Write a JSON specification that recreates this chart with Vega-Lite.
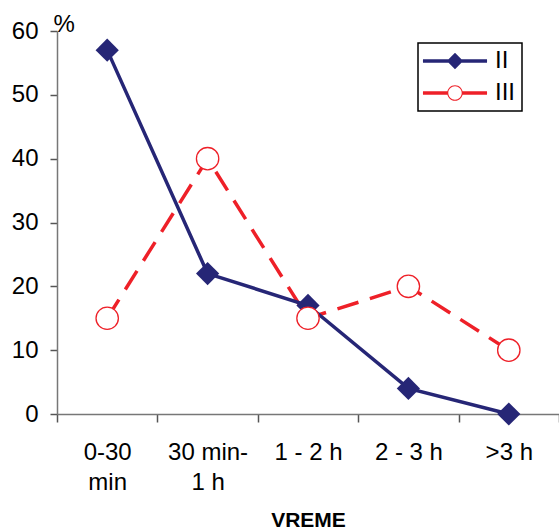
{
  "$schema": "https://vega.github.io/schema/vega-lite/v6.json",
  "width": 502,
  "height": 383,
  "autosize": {"type": "none"},
  "padding": {"left": 57, "top": 31, "right": 0, "bottom": 115},
  "background": "white",
  "config": {
    "view": {"stroke": null},
    "font": "Liberation Sans",
    "axis": {"grid": false, "domainColor": "#777777", "tickColor": "#555555", "domainWidth": 1.5, "tickWidth": 1.5, "labelColor": "#000000", "titleColor": "#000000"},
    "legend": {"strokeWidth": 1.5}
  },
  "data": {
    "values": [
      {"vreme": "0-30 min", "series": "II", "pct": 57},
      {"vreme": "30 min- 1 h", "series": "II", "pct": 22},
      {"vreme": "1 - 2 h", "series": "II", "pct": 17},
      {"vreme": "2 - 3 h", "series": "II", "pct": 4},
      {"vreme": ">3 h", "series": "II", "pct": 0},
      {"vreme": "0-30 min", "series": "III", "pct": 15},
      {"vreme": "30 min- 1 h", "series": "III", "pct": 40},
      {"vreme": "1 - 2 h", "series": "III", "pct": 15},
      {"vreme": "2 - 3 h", "series": "III", "pct": 20},
      {"vreme": ">3 h", "series": "III", "pct": 10}
    ]
  },
  "encoding": {
    "x": {
      "field": "vreme",
      "type": "nominal",
      "sort": ["0-30 min", "30 min- 1 h", "1 - 2 h", "2 - 3 h", ">3 h"],
      "scale": {"type": "band", "paddingInner": 0, "paddingOuter": 0},
      "bandPosition": 0.5,
      "axis": {
        "title": "VREME",
        "titleFontSize": 21,
        "titleFontWeight": "bold",
        "titleY": 112,
        "titleBaseline": "alphabetic",
        "labelAngle": 0,
        "labelFontSize": 24,
        "labelPadding": 18,
        "labelBaseline": "top",
        "labelLineHeight": 30,
        "tickSize": 8,
        "tickBand": "extent",
        "labelExpr": "datum.value == '0-30 min' ? ['0-30', 'min'] : datum.value == '30 min- 1 h' ? ['30 min-', '1 h'] : datum.value"
      }
    },
    "y": {
      "field": "pct",
      "type": "quantitative",
      "scale": {"domain": [0, 60], "nice": false},
      "axis": {
        "values": [0, 10, 20, 30, 40, 50, 60],
        "labelFontSize": 24,
        "tickSize": 7,
        "labelPadding": 12,
        "title": "%",
        "titleAngle": 0,
        "titleX": -4,
        "titleY": 0,
        "titleAlign": "left",
        "titleBaseline": "alphabetic",
        "titleFontSize": 24,
        "titleFontWeight": "normal"
      }
    }
  },
  "layer": [
    {
      "transform": [{"filter": "datum.series === 'III'"}],
      "mark": {"type": "line", "strokeWidth": 3.5, "strokeDash": [22, 12]},
      "encoding": {
        "stroke": {
          "field": "series",
          "type": "nominal",
          "scale": {"domain": ["II", "III"], "range": ["#262676", "#ee2028"]},
          "legend": {
            "title": null,
            "orient": "none",
            "legendX": 361,
            "legendY": 12,
            "padding": 6,
            "strokeColor": "#000000",
            "fillColor": "#ffffff",
            "symbolSize": 576,
            "symbolOffset": 19,
            "labelOffset": 28,
            "rowPadding": 8,
            "labelFontSize": 24,
            "labelColor": "#000000",
            "encode": {
              "symbols": {
                "update": {
                  "shape": {"signal": "datum.value === 'II' ? 'M-2.67,-0.14H2.67V0.14H-2.67Z M0,-0.68L0.68,0L0,0.68L-0.68,0Z' : 'M-2.67,-0.14H-0.62V0.14H-2.67Z M0.62,-0.14H2.67V0.14H0.62Z M0.65,0 C0.65,0.359 0.359,0.65 0,0.65 C-0.359,0.65 -0.65,0.359 -0.65,0 C-0.65,-0.359 -0.359,-0.65 0,-0.65 C0.359,-0.65 0.65,-0.359 0.65,0 Z M0.56,0 C0.56,-0.309 0.309,-0.56 0,-0.56 C-0.309,-0.56 -0.56,-0.309 -0.56,0 C-0.56,0.309 -0.309,0.56 0,0.56 C0.309,0.56 0.56,0.309 0.56,0 Z'"},
                  "fill": {"signal": "datum.value === 'II' ? '#262676' : '#ee2028'"},
                  "stroke": {"value": "transparent"},
                  "strokeWidth": {"value": 0},
                  "opacity": {"value": 1},
                  "fillOpacity": {"value": 1},
                  "size": {"value": 576}
                }
              }
            }
          }
        }
      }
    },
    {
      "transform": [{"filter": "datum.series === 'II'"}],
      "mark": {"type": "line", "strokeWidth": 3.5},
      "encoding": {
        "stroke": {
          "field": "series",
          "type": "nominal",
          "scale": {"domain": ["II", "III"], "range": ["#262676", "#ee2028"]}
        }
      }
    },
    {
      "transform": [{"filter": "datum.series === 'II'"}],
      "mark": {"type": "point", "shape": "diamond", "filled": true, "fill": "#262676", "strokeWidth": 0, "size": 540, "opacity": 1}
    },
    {
      "transform": [{"filter": "datum.series === 'III'"}],
      "mark": {"type": "point", "shape": "circle", "filled": false, "fill": "#ffffff", "fillOpacity": 1, "stroke": "#ee2028", "strokeWidth": 1.3, "size": 500, "opacity": 1}
    }
  ]
}
